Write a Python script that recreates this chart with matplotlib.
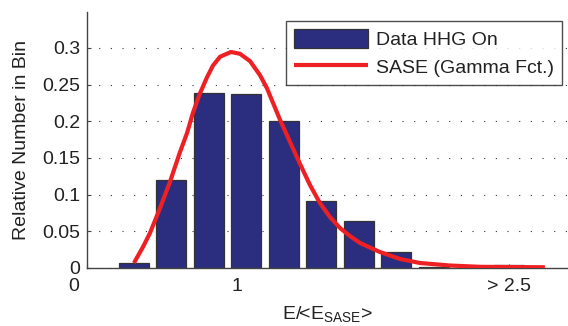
import numpy as np
import matplotlib
matplotlib.use("Agg")
import matplotlib.pyplot as plt
import matplotlib.transforms as mtransforms

plt.rcParams['font.family'] = ['Liberation Sans', 'DejaVu Sans']
plt.rcParams['mathtext.fontset'] = 'custom'
plt.rcParams['mathtext.rm'] = 'Liberation Sans'
plt.rcParams['mathtext.it'] = 'Liberation Sans'

# ------------------------
# DATA
# ------------------------
bin_centers = [0.3125, 0.5625, 0.8125, 1.0625, 1.3125, 1.5625,
               1.8125, 2.0625, 2.3125, 2.5625, 2.8125]
bin_values = [0.007, 0.120, 0.238, 0.237, 0.201, 0.091,
              0.064, 0.022, 0.002, 0.0, 0.004]

gamma_x = [0.313, 0.373, 0.420, 0.487, 0.553, 0.620, 0.667, 0.707, 0.753,
           0.800, 0.840, 0.887, 0.960, 1.020, 1.087, 1.153, 1.200, 1.287,
           1.353, 1.420, 1.487, 1.553, 1.620, 1.687, 1.753, 1.820, 1.953,
           2.087, 2.220, 2.420, 2.620, 3.053]
gamma_y = [0.0068, 0.0286, 0.0477, 0.0818, 0.1173, 0.158, 0.184, 0.212, 0.238,
           0.260, 0.276, 0.288, 0.2945, 0.292, 0.282, 0.263, 0.245, 0.202,
           0.172, 0.142, 0.113, 0.0886, 0.0695, 0.0545, 0.0436, 0.0341, 0.0218,
           0.0123, 0.0068, 0.0034, 0.0016, 0.0010]

xtick_pos = [0.0, 1.0, 2.8125]
xtick_labels = ['0', '1', '> 2.5']
ytick_pos = [0, 0.05, 0.1, 0.15, 0.2, 0.25, 0.3]
ytick_labels = ['0', '0.05', '0.1', '0.15', '0.2', '0.25', '0.3']

# ------------------------
# PLOT
# ------------------------
fs = 14
txt = '#222222'

fig = plt.figure(figsize=(5.68, 3.26), dpi=100)
ax = fig.add_axes([87 / 568, 58 / 326, 481 / 568, 256 / 326])

bars = ax.bar(bin_centers, bin_values, width=0.2, color='#2b2d7f',
              edgecolor='#333333', linewidth=0.9, zorder=2)
line, = ax.plot(gamma_x, gamma_y, color='#ee2024', linewidth=3.0,
                solid_capstyle='butt', zorder=3)

ax.set_xlim(0, 3.207)
ax.set_ylim(0, 0.349)
ax.set_xticks(xtick_pos)
ax.set_xticklabels(xtick_labels)
ax.set_yticks(ytick_pos)
ax.set_yticklabels(ytick_labels)

ax.yaxis.grid(True, linestyle=(0, (1, 9.5)), color='#333333', linewidth=0.8)
ax.set_axisbelow(True)

for s in ['top', 'right']:
    ax.spines[s].set_visible(False)
for s in ['left', 'bottom']:
    ax.spines[s].set_color('#444444')
    ax.spines[s].set_linewidth(1.0)

ax.tick_params(axis='both', direction='in', length=3, width=0.8,
               colors='#444444', labelcolor=txt, labelsize=fs)
ax.tick_params(axis='x', pad=7)
ax.tick_params(axis='y', pad=5)

# MATLAB put the "0" label a little left of the spine
lab0 = ax.get_xticklabels()[0]
lab0.set_transform(lab0.get_transform() +
                   mtransforms.ScaledTranslation(-0.13, 0, fig.dpi_scale_trans))

ax.set_xlabel(r'E/<E$_{\mathrm{SASE}}$>', fontsize=fs, color=txt, labelpad=7)
ax.set_ylabel('Relative Number in Bin', fontsize=fs, color=txt, labelpad=9)

leg = ax.legend([bars, line], ['Data HHG On', 'SASE (Gamma Fct.)'],
                loc='upper right', bbox_to_anchor=(0.9875, 0.965),
                borderaxespad=0, fontsize=fs, fancybox=False,
                handlelength=3.8, handleheight=1.18, handletextpad=0.42,
                labelspacing=0.4, borderpad=0.4)
leg.get_frame().set_edgecolor('#222222')
leg.get_frame().set_linewidth(1.0)
for t in leg.get_texts():
    t.set_color(txt)

fig.savefig('out.png', dpi=100)
